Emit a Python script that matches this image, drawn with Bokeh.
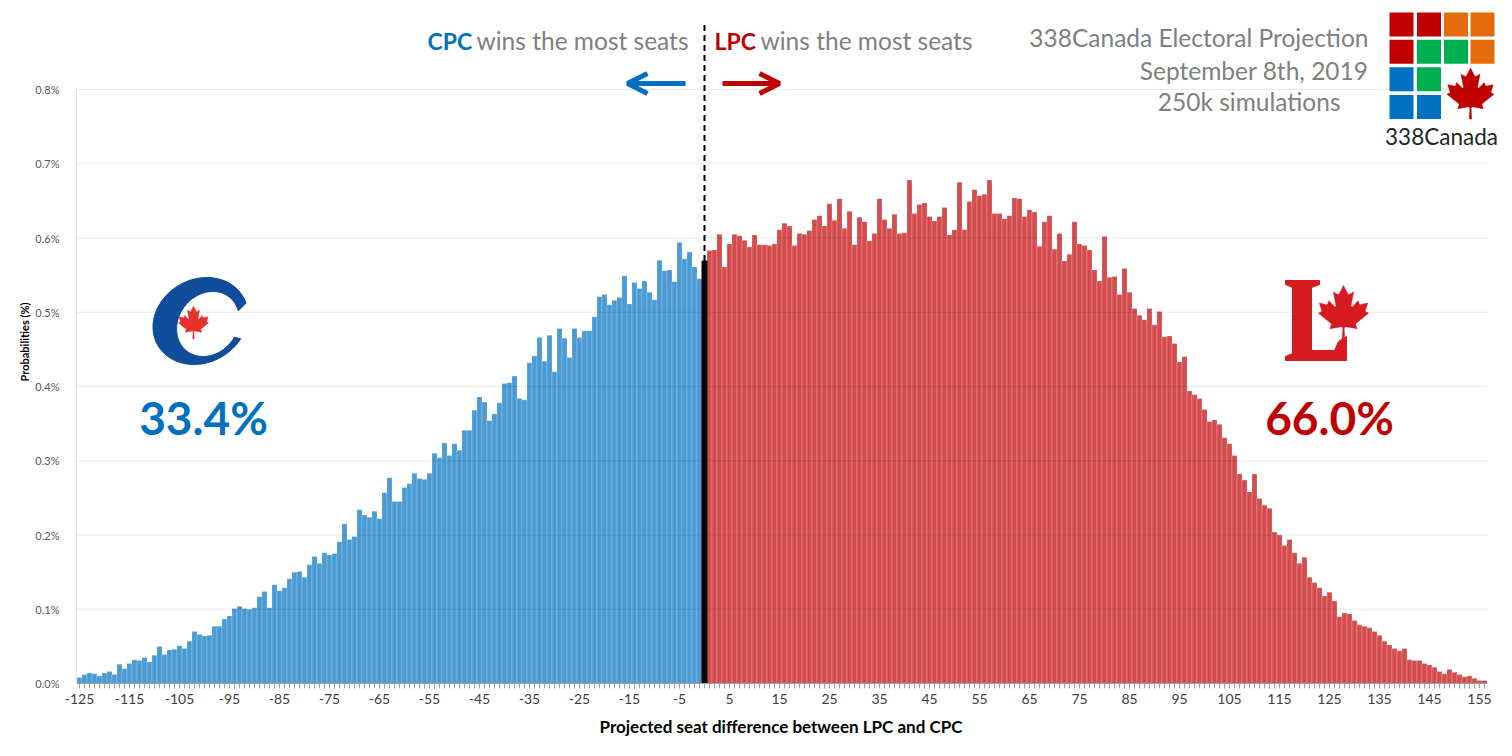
import numpy as np
from bokeh.plotting import figure
from bokeh.models import Range1d, FixedTicker, PrintfTickFormatter, CustomJSTickFormatter, Arrow, OpenHead, Title
from bokeh.core.properties import value
from bokeh.embed import file_html
from bokeh.resources import INLINE

# ---------------- data ----------------
seat_diff_cpc = list(range(-125, 0))
cpc_prob = [
    0.008, 0.012, 0.014, 0.013, 0.010, 0.014, 0.016, 0.012, 0.026, 0.020,   # -125..-116
    0.027, 0.032, 0.031, 0.035, 0.029, 0.038, 0.050, 0.039, 0.045, 0.046,   # -115..-106
    0.051, 0.047, 0.057, 0.070, 0.066, 0.064, 0.065, 0.077, 0.077, 0.087,   # -105..-96
    0.091, 0.101, 0.104, 0.101, 0.100, 0.102, 0.117, 0.124, 0.102, 0.133,   # -95..-86
    0.125, 0.129, 0.141, 0.150, 0.151, 0.143, 0.160, 0.171, 0.162, 0.176,   # -85..-76
    0.173, 0.175, 0.191, 0.215, 0.194, 0.198, 0.234, 0.227, 0.224, 0.232,   # -75..-66
    0.222, 0.257, 0.277, 0.245, 0.245, 0.264, 0.269, 0.283, 0.276, 0.275,   # -65..-56
    0.283, 0.310, 0.304, 0.324, 0.307, 0.323, 0.314, 0.341, 0.341, 0.368,   # -55..-46
    0.386, 0.379, 0.354, 0.363, 0.378, 0.404, 0.405, 0.414, 0.384, 0.382,   # -45..-36
    0.432, 0.441, 0.466, 0.434, 0.469, 0.420, 0.478, 0.465, 0.439, 0.478,   # -35..-26
    0.466, 0.475, 0.475, 0.494, 0.521, 0.524, 0.510, 0.516, 0.520, 0.549,   # -25..-16
    0.511, 0.540, 0.532, 0.542, 0.527, 0.517, 0.570, 0.556, 0.557, 0.541,   # -15..-6
    0.594, 0.572, 0.581, 0.561, 0.545,                                      # -5..-1
]
tie_seat = [0]
tie_prob = [0.569]
seat_diff_lpc = list(range(1, 157))
lpc_prob = [
    0.583, 0.584, 0.605, 0.561, 0.592, 0.605, 0.603, 0.597, 0.588, 0.604,   # 1..10
    0.591, 0.591, 0.590, 0.592, 0.611, 0.620, 0.616, 0.590, 0.606, 0.605,   # 11..20
    0.610, 0.625, 0.630, 0.616, 0.646, 0.624, 0.653, 0.613, 0.636, 0.591,   # 21..30
    0.628, 0.622, 0.596, 0.606, 0.653, 0.625, 0.613, 0.632, 0.606, 0.607,   # 31..40
    0.678, 0.633, 0.645, 0.647, 0.629, 0.623, 0.629, 0.641, 0.604, 0.611,   # 41..50
    0.675, 0.611, 0.649, 0.665, 0.657, 0.659, 0.678, 0.633, 0.633, 0.626,   # 51..60
    0.630, 0.654, 0.653, 0.629, 0.638, 0.635, 0.589, 0.622, 0.630, 0.585,   # 61..70
    0.606, 0.569, 0.578, 0.622, 0.592, 0.590, 0.584, 0.557, 0.542, 0.602,   # 71..80
    0.547, 0.548, 0.524, 0.559, 0.527, 0.505, 0.496, 0.490, 0.505, 0.483,   # 81..90
    0.501, 0.467, 0.468, 0.458, 0.433, 0.440, 0.394, 0.389, 0.384, 0.369,   # 91..100
    0.353, 0.355, 0.349, 0.331, 0.323, 0.307, 0.282, 0.274, 0.258, 0.282,   # 101..110
    0.249, 0.240, 0.236, 0.204, 0.200, 0.186, 0.194, 0.176, 0.162, 0.170,   # 111..120
    0.143, 0.136, 0.129, 0.118, 0.123, 0.111, 0.090, 0.095, 0.094, 0.085,   # 121..130
    0.079, 0.077, 0.075, 0.070, 0.065, 0.057, 0.052, 0.047, 0.044, 0.047,   # 131..140
    0.032, 0.031, 0.031, 0.027, 0.025, 0.022, 0.016, 0.013, 0.019, 0.015,   # 141..150
    0.012, 0.009, 0.010, 0.007, 0.004, 0.004,                               # 151..156
]
x_label_ticks = list(range(-125, 156, 10))
y_ticks = [0.0, 0.1, 0.2, 0.3, 0.4, 0.5, 0.6, 0.7, 0.8]
cpc_win = "33.4%"
lpc_win = "66.0%"
title_lines = ["338Canada Electoral Projection", "September 8th, 2019", "250k simulations"]
x_title = "Projected seat difference between LPC and CPC"

# ---------------- layout ----------------
W, H = 1504, 748
ML = 76
BASE_Y = 683
MB = H - BASE_Y
FW, FH = W - ML, BASE_Y
PX_SEAT = 5.0
PX_PCT = 742.5
X0 = -125.6
X_AX_END = 156.6

def dx(px):
    return X0 + (px - ML) / PX_SEAT

def dy(py):
    return (BASE_Y - py) / PX_PCT

BLUE_BAR = "#4A9AD4"
RED_BAR = "#D44C4E"
CPC_BLUE = "#0070C0"
LPC_RED = "#C00000"
GRAY = "#808080"
FONT = "Lato"

p = figure(width=W, height=H, output_backend="svg", toolbar_location=None,
           x_range=Range1d(X0, X0 + FW / PX_SEAT), y_range=Range1d(0, FH / PX_PCT),
           min_border_left=ML, min_border_right=0, min_border_top=0, min_border_bottom=MB)
p.outline_line_color = None
p.xgrid.visible = False
p.ygrid.visible = False
p.background_fill_color = "white"

# bars
bar_kw = dict(width=1.0, bottom=0, line_color="white", line_alpha=0.35, line_width=0.6)
p.vbar(x=seat_diff_cpc, top=cpc_prob, fill_color=BLUE_BAR, **bar_kw)
p.vbar(x=seat_diff_lpc, top=lpc_prob, fill_color=RED_BAR, **bar_kw)
p.vbar(x=tie_seat, top=tie_prob, fill_color="black", width=1.0, bottom=0, line_color="black")

# gridlines (drawn lightly on top, as in reference)
gy = y_ticks[1:]
p.segment(x0=[X0] * len(gy), y0=gy, x1=[X_AX_END] * len(gy), y1=gy,
          line_color="black", line_alpha=0.08, line_width=1)

# axes
p.yaxis.ticker = FixedTicker(ticks=y_ticks)
p.yaxis.formatter = PrintfTickFormatter(format="%.1f%%")
p.yaxis.bounds = (0, 0.8)
p.yaxis.axis_line_color = "#E4E4E4"
p.yaxis.major_tick_line_color = None
p.yaxis.minor_tick_line_color = None
p.yaxis.major_label_text_font = FONT
p.yaxis.major_label_text_font_size = "11px"
p.yaxis.major_label_text_color = "#595959"
p.yaxis.major_label_standoff = 11
p.yaxis.axis_label = "Probabilities (%)"
p.yaxis.axis_label_text_font = FONT
p.yaxis.axis_label_text_font_style = "bold"
p.yaxis.axis_label_text_font_size = "11px"
p.yaxis.axis_label_text_color = "black"
p.yaxis.axis_label_standoff = 1

p.xaxis.ticker = FixedTicker(ticks=list(range(-125, 157)))
p.xaxis.formatter = CustomJSTickFormatter(
    args=dict(labels=x_label_ticks),
    code="return labels.indexOf(Math.round(tick)) >= 0 ? String(Math.round(tick)) : '';")
p.xaxis.bounds = (X0, X_AX_END)
p.xaxis.axis_line_color = "#A0A0A0"
p.xaxis.major_tick_line_color = "#A0A0A0"
p.xaxis.major_tick_out = 5
p.xaxis.major_tick_in = 0
p.xaxis.minor_tick_line_color = None
p.xaxis.major_label_text_font = FONT
p.xaxis.major_label_text_font_size = "14px"
p.xaxis.major_label_text_color = "#404040"
p.xaxis.major_label_standoff = 5

# x-axis title as a "below" title, shifted to be centred on the drawn axis
p.add_layout(Title(text=x_title, align="left", offset=523, text_font=FONT,
                   text_font_size="17px", text_font_style="bold", text_color="black",
                   standoff=14), "below")

# dashed divider
p.segment(x0=tie_seat, y0=tie_prob, x1=tie_seat, y1=[dy(22)],
          line_color="black", line_dash="6 4", line_width=2)

def txt(px, py, s, size, color, align="left", bold=False, font=FONT):
    p.text(x=[dx(px)], y=[dy(py)], text=[s], text_font=value(font),
           text_font_size=size, text_color=color, text_align=align,
           text_baseline="middle", text_font_style="bold" if bold else "normal")

# header texts
txt(427, 40, "CPC", "23px", CPC_BLUE, bold=True)
txt(476, 40, "wins the most seats", "24.5px", GRAY)
txt(714, 40, "LPC", "23px", LPC_RED, bold=True)
txt(760, 40, "wins the most seats", "24.5px", GRAY)

p.add_layout(Arrow(end=OpenHead(size=20, line_width=5, line_color=CPC_BLUE),
                   x_start=dx(685), y_start=dy(83), x_end=dx(627), y_end=dy(83),
                   line_width=5, line_color=CPC_BLUE))
p.add_layout(Arrow(end=OpenHead(size=20, line_width=5, line_color=LPC_RED),
                   x_start=dx(722), y_start=dy(83), x_end=dx(779), y_end=dy(83),
                   line_width=5, line_color=LPC_RED))

txt(1368, 37, title_lines[0], "24.5px", GRAY, align="right")
txt(1368, 70, title_lines[1], "24.5px", GRAY, align="right")
txt(1340, 101, title_lines[2], "24.5px", GRAY, align="right")

# percentages
txt(203, 417, cpc_win, "46px", CPC_BLUE, align="center", bold=True)
txt(1329, 417, lpc_win, "46px", LPC_RED, align="center", bold=True)

# ---------------- logos (decorative shapes) ----------------
LEAF = np.array([
    (-90, 2030), (-45, 1167), (-156, 1069), (-1015, 1220), (-899, 900), (-919, 827),
    (-1860, 65), (-1648, -34), (-1614, -113), (-1800, -685), (-1258, -570), (-1185, -608),
    (-1080, -855), (-657, -401), (-546, -458), (-750, -1510), (-423, -1321), (-332, -1348),
    (0, -2000), (332, -1348), (423, -1321), (750, -1510), (546, -458), (657, -401),
    (1080, -855), (1185, -608), (1258, -570), (1800, -685), (1614, -113), (1648, -34),
    (1860, 65), (919, 827), (899, 900), (1015, 1220), (156, 1069), (45, 1167), (90, 2030)],
    dtype=float)

def leaf(cx, cy, width, color):
    s = width / 3720.0
    xs = [dx(cx + a * s) for a in LEAF[:, 0]]
    ys = [dy(cy + (b - 15) * s) for b in LEAF[:, 1]]
    p.patch(xs, ys, fill_color=color, line_color=color, line_width=0.5)

# 338Canada squares
sq_cols = [1389, 1416.5, 1443.5, 1470]
sq_rows = [12, 39.3, 66.7, 94.5]
sq_colors = [["#C00000", "#C00000", "#E46C0A", "#E46C0A"],
             ["#C00000", "#00B050", "#00B050", "#E46C0A"],
             ["#0070C0", "#00B050", None, None],
             ["#0070C0", "#0070C0", None, None]]
ql, qr, qt, qb, qc = [], [], [], [], []
for r, top in enumerate(sq_rows):
    for c, left in enumerate(sq_cols):
        col = sq_colors[r][c]
        if col is None:
            continue
        ql.append(dx(left)); qr.append(dx(left + 24))
        qt.append(dy(top)); qb.append(dy(top + 24)); qc.append(col)
p.quad(left=ql, right=qr, top=qt, bottom=qb, fill_color=qc, line_color=None)
leaf(1470, 93, 47, "#C00000")
txt(1441, 136, "338Canada", "22.5px", "#262626", align="center", font="Lato")

# CPC "C" logo
th = np.radians(np.linspace(24, 336, 80))
ocx, ocy, orx, ory = 200, 320.5, 47, 43.5
icx, icy, irx, iry = 208, 323.5, 31, 32.5
ox = ocx + orx * np.cos(th); oy = ocy - ory * np.sin(th)
ix = icx + irx * np.cos(th[::-1]); iy = icy - iry * np.sin(th[::-1])
cx_ = np.concatenate([ox, ix]); cy_ = np.concatenate([oy, iy])
cx_ = cx_ + 0.15 * (320 - cy_)
p.patch([dx(v) for v in cx_], [dy(v) for v in cy_], fill_color="#0E4C9C", line_color="#0E4C9C")
leaf(193, 322, 30, "#E8312A")

# Liberal "L" logo
L_pts = [(1285, 280), (1319, 280), (1319, 284), (1311, 287), (1311, 350), (1334, 350),
         (1338, 341), (1346, 336), (1346, 360), (1285, 360), (1285, 356), (1292, 353),
         (1292, 287), (1285, 284)]
p.patch([dx(a) for a, b in L_pts], [dy(b) for a, b in L_pts], fill_color="#D71920", line_color="#D71920")
leaf(1343, 312, 50, "#D71920")

open("out.html", "w").write(file_html(p, INLINE))
